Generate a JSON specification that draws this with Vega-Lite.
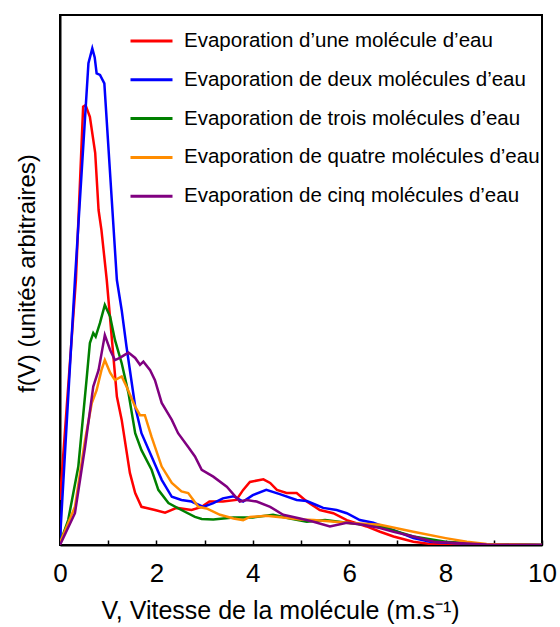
{
  "$schema": "https://vega.github.io/schema/vega-lite/v6.json",
  "width": 482,
  "height": 530,
  "autosize": {"type": "none"},
  "padding": {"left": 60, "top": 15, "right": 18, "bottom": 82},
  "background": "white",
  "config": {
    "font": "Liberation Sans",
    "view": {"stroke": "black", "strokeWidth": 2},
    "axis": {"grid": false, "domainColor": "black", "domainWidth": 2, "tickColor": "black", "labelColor": "black", "titleColor": "black", "titleFontWeight": "normal"}
  },
  "data": {"values": [
    {"n":1,"v":0,"f":8.5},{"n":1,"v":0.33,"f":50},{"n":1,"v":0.48,"f":82.7},{"n":1,"v":0.53,"f":83},{"n":1,"v":0.62,"f":80.8},{"n":1,"v":0.73,"f":74},{"n":1,"v":0.8,"f":63.2},{"n":1,"v":0.86,"f":59.4},{"n":1,"v":0.97,"f":50},{"n":1,"v":1.18,"f":28},{"n":1,"v":1.28,"f":23.6},{"n":1,"v":1.45,"f":13.6},{"n":1,"v":1.56,"f":9.8},{"n":1,"v":1.69,"f":7.2},{"n":1,"v":1.97,"f":6.6},{"n":1,"v":2.18,"f":6.1},{"n":1,"v":2.42,"f":7},{"n":1,"v":2.73,"f":6.6},{"n":1,"v":2.94,"f":7.2},{"n":1,"v":3.1,"f":8.2},{"n":1,"v":3.38,"f":8.2},{"n":1,"v":3.66,"f":8.5},{"n":1,"v":3.8,"f":10.4},{"n":1,"v":3.94,"f":11.9},{"n":1,"v":4.22,"f":12.4},{"n":1,"v":4.36,"f":11.7},{"n":1,"v":4.5,"f":10.4},{"n":1,"v":4.7,"f":9.8},{"n":1,"v":4.91,"f":9.8},{"n":1,"v":5.12,"f":8.2},{"n":1,"v":5.39,"f":6.6},{"n":1,"v":5.67,"f":6},{"n":1,"v":5.95,"f":4.7},{"n":1,"v":6.36,"f":3.5},{"n":1,"v":6.64,"f":2.5},{"n":1,"v":6.92,"f":1.6},{"n":1,"v":7.33,"f":0.6},{"n":1,"v":7.68,"f":0.2},{"n":1,"v":8,"f":0.1},{"n":1,"v":10,"f":0},
    {"n":2,"v":0,"f":1},{"n":2,"v":0.31,"f":50},{"n":2,"v":0.59,"f":90.9},{"n":2,"v":0.67,"f":93.7},{"n":2,"v":0.72,"f":92},{"n":2,"v":0.76,"f":89},{"n":2,"v":0.83,"f":88.7},{"n":2,"v":0.92,"f":87.1},{"n":2,"v":1.18,"f":50},{"n":2,"v":1.28,"f":44.3},{"n":2,"v":1.38,"f":37.4},{"n":2,"v":1.56,"f":26.1},{"n":2,"v":1.69,"f":21.1},{"n":2,"v":1.9,"f":16.7},{"n":2,"v":2.11,"f":12.3},{"n":2,"v":2.32,"f":9.1},{"n":2,"v":2.52,"f":8.5},{"n":2,"v":2.73,"f":8.2},{"n":2,"v":2.97,"f":7.2},{"n":2,"v":3.18,"f":7.9},{"n":2,"v":3.38,"f":8.8},{"n":2,"v":3.6,"f":9.2},{"n":2,"v":3.8,"f":8.2},{"n":2,"v":4,"f":9.4},{"n":2,"v":4.28,"f":10.4},{"n":2,"v":4.56,"f":9.6},{"n":2,"v":4.91,"f":8.5},{"n":2,"v":5.12,"f":8.3},{"n":2,"v":5.33,"f":7.5},{"n":2,"v":5.46,"f":7},{"n":2,"v":5.74,"f":6.6},{"n":2,"v":5.95,"f":6},{"n":2,"v":6.22,"f":4.7},{"n":2,"v":6.5,"f":4.2},{"n":2,"v":6.92,"f":2.8},{"n":2,"v":7.33,"f":1.3},{"n":2,"v":7.68,"f":0.6},{"n":2,"v":8.15,"f":0.4},{"n":2,"v":8.7,"f":0.2},{"n":2,"v":10,"f":0},
    {"n":3,"v":0,"f":0.4},{"n":3,"v":0.17,"f":4.7},{"n":3,"v":0.38,"f":14.8},{"n":3,"v":0.55,"f":31.1},{"n":3,"v":0.62,"f":38.1},{"n":3,"v":0.69,"f":40},{"n":3,"v":0.74,"f":39.3},{"n":3,"v":0.83,"f":41.9},{"n":3,"v":0.93,"f":45.3},{"n":3,"v":1.04,"f":43.1},{"n":3,"v":1.14,"f":38.7},{"n":3,"v":1.28,"f":34.3},{"n":3,"v":1.42,"f":28.7},{"n":3,"v":1.56,"f":21.1},{"n":3,"v":1.69,"f":17.9},{"n":3,"v":1.9,"f":14.2},{"n":3,"v":2.04,"f":10.4},{"n":3,"v":2.25,"f":7.9},{"n":3,"v":2.52,"f":6.6},{"n":3,"v":2.8,"f":5.3},{"n":3,"v":2.94,"f":4.9},{"n":3,"v":3.18,"f":4.8},{"n":3,"v":3.6,"f":5.2},{"n":3,"v":4,"f":5.2},{"n":3,"v":4.42,"f":5.7},{"n":3,"v":4.77,"f":5},{"n":3,"v":5.12,"f":4.4},{"n":3,"v":5.5,"f":4.7},{"n":3,"v":5.95,"f":4.2},{"n":3,"v":6.64,"f":3.5},{"n":3,"v":7.33,"f":1.6},{"n":3,"v":8,"f":0.6},{"n":3,"v":8.7,"f":0.2},{"n":3,"v":10,"f":0},
    {"n":4,"v":0,"f":0.4},{"n":4,"v":0.31,"f":7.2},{"n":4,"v":0.52,"f":19.8},{"n":4,"v":0.66,"f":26.8},{"n":4,"v":0.76,"f":29.2},{"n":4,"v":0.86,"f":33},{"n":4,"v":0.93,"f":34.9},{"n":4,"v":1.04,"f":32.5},{"n":4,"v":1.14,"f":31.1},{"n":4,"v":1.28,"f":31.8},{"n":4,"v":1.38,"f":29.9},{"n":4,"v":1.56,"f":26.1},{"n":4,"v":1.66,"f":24.5},{"n":4,"v":1.76,"f":24.5},{"n":4,"v":1.9,"f":20.4},{"n":4,"v":2.11,"f":14.8},{"n":4,"v":2.32,"f":11.7},{"n":4,"v":2.52,"f":10.1},{"n":4,"v":2.66,"f":9.8},{"n":4,"v":2.87,"f":7.2},{"n":4,"v":3.04,"f":6.9},{"n":4,"v":3.32,"f":5.7},{"n":4,"v":3.6,"f":5},{"n":4,"v":3.8,"f":4.7},{"n":4,"v":3.94,"f":5.3},{"n":4,"v":4.28,"f":5.5},{"n":4,"v":4.63,"f":5.2},{"n":4,"v":4.98,"f":4.8},{"n":4,"v":5.26,"f":4.7},{"n":4,"v":5.95,"f":4.2},{"n":4,"v":6.64,"f":3.8},{"n":4,"v":7.33,"f":2.5},{"n":4,"v":8,"f":1.3},{"n":4,"v":8.44,"f":0.6},{"n":4,"v":8.85,"f":0.2},{"n":4,"v":10,"f":0},
    {"n":5,"v":0,"f":0},{"n":5,"v":0.31,"f":6},{"n":5,"v":0.52,"f":18.5},{"n":5,"v":0.69,"f":29.9},{"n":5,"v":0.8,"f":33},{"n":5,"v":0.93,"f":39.6},{"n":5,"v":1.04,"f":36.8},{"n":5,"v":1.14,"f":34.9},{"n":5,"v":1.24,"f":35.3},{"n":5,"v":1.42,"f":36.3},{"n":5,"v":1.56,"f":35.3},{"n":5,"v":1.66,"f":34},{"n":5,"v":1.73,"f":34.6},{"n":5,"v":1.87,"f":33},{"n":5,"v":1.97,"f":31.1},{"n":5,"v":2.11,"f":26.8},{"n":5,"v":2.32,"f":23.6},{"n":5,"v":2.45,"f":21.1},{"n":5,"v":2.66,"f":18.5},{"n":5,"v":2.8,"f":16.7},{"n":5,"v":2.94,"f":14.2},{"n":5,"v":3.18,"f":12.9},{"n":5,"v":3.46,"f":11},{"n":5,"v":3.73,"f":8.2},{"n":5,"v":3.87,"f":8.5},{"n":5,"v":4.08,"f":8.2},{"n":5,"v":4.36,"f":7.2},{"n":5,"v":4.63,"f":5.7},{"n":5,"v":4.98,"f":5},{"n":5,"v":5.26,"f":4.4},{"n":5,"v":5.6,"f":3.5},{"n":5,"v":5.95,"f":4.2},{"n":5,"v":6.29,"f":3.8},{"n":5,"v":6.64,"f":3.2},{"n":5,"v":6.92,"f":2.5},{"n":5,"v":7.33,"f":1.6},{"n":5,"v":7.75,"f":0.6},{"n":5,"v":8.23,"f":0.4},{"n":5,"v":8.85,"f":0.1},{"n":5,"v":10,"f":0}
  ]},
  "mark": {"type": "line", "strokeWidth": 2.5, "clip": true},
  "encoding": {
    "x": {
      "field": "v", "type": "quantitative",
      "scale": {"domain": [0, 10], "nice": false},
      "axis": {
        "values": [0,1,2,3,4,5,6,7,8,9,10],
        "labelExpr": "datum.value % 2 === 0 ? datum.label : ''",
        "tickSize": -5, "tickWidth": 1.5,
        "labelFontSize": 26, "labelPadding": 20, "labelFlush": false,
        "title": "V, Vitesse de la molécule (m.s⁻¹)",
        "titleFontSize": 25, "titlePadding": 12, "titleX": 220, "titleAlign": "center"
      }
    },
    "y": {
      "field": "f", "type": "quantitative",
      "scale": {"domain": [0, 100], "nice": false},
      "axis": {
        "labels": false, "ticks": false,
        "title": "f(V) (unités arbitraires)",
        "titleFontSize": 24, "titlePadding": 21, "titleY": 258
      }
    },
    "color": {
      "field": "n", "type": "nominal",
      "scale": {"domain": [1,2,3,4,5], "range": ["#ff0000", "#0000ff", "#008000", "#ff8c00", "#800080"]},
      "legend": {
        "orient": "none", "legendX": 69, "legendY": 16,
        "title": null,
        "labelExpr": "['Evaporation d’une molécule d’eau','Evaporation de deux molécules d’eau','Evaporation de trois molécules d’eau','Evaporation de quatre molécules d’eau','Evaporation de cinq molécules d’eau'][datum.value - 1]",
        "symbolType": "stroke", "symbolSize": 1764, "symbolStrokeWidth": 3,
        "clipHeight": 20, "rowPadding": 17.8, "labelOffset": 10,
        "labelFontSize": 20.5, "labelColor": "black", "labelLimit": 400,
        "padding": 0, "offset": 0
      }
    }
  }
}
